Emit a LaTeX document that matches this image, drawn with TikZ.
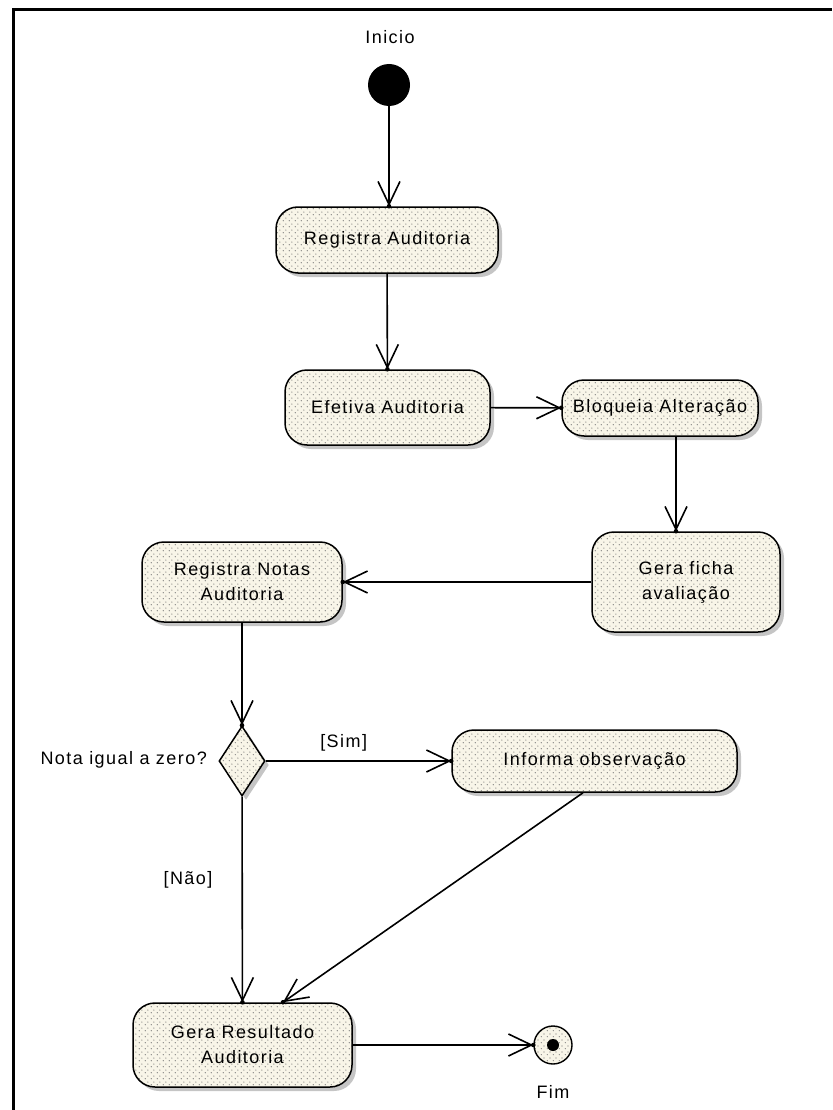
\documentclass[tikz,border=0pt]{standalone}
\usepackage{fontspec}
\newfontfamily\umlfont[LetterSpace=8]{Liberation Sans}
\usetikzlibrary{arrows.meta,shapes.geometric,shadows,patterns.meta,decorations.markings}

\definecolor{boxfill}{RGB}{248,245,232}
\definecolor{dotgray}{RGB}{115,115,115}

% light stippling used inside every state
\tikzdeclarepattern{
  name=dotgrid,
  type=uncolored,
  bounding box={(0pt,0pt) and (6pt,6pt)},
  tile size={(6pt,6pt)},
  code={
    \pgfpathcircle{\pgfpoint{1.5pt}{1.5pt}}{0.7pt}
    \pgfpathcircle{\pgfpoint{4.5pt}{4.5pt}}{0.7pt}
    \pgfusepath{fill}
  }
}

\tikzset{
  uml/.style={font=\umlfont\fontsize{18}{25}\selectfont, text=black},
  stippled/.style={
    drop shadow={shadow xshift=4pt, shadow yshift=-4pt, fill=black!45},
    preaction={fill=boxfill},
    pattern=dotgrid, pattern color=dotgray,
    draw=black, line width=1.5pt},
  activity/.style={uml, stippled, rounded corners=22pt, align=center, inner sep=0pt},
  decision/.style={stippled, diamond, inner sep=0pt, minimum width=46pt, minimum height=70pt},
  startstate/.style={circle, fill=black, inner sep=0pt, minimum size=42pt},
  endstate/.style={circle, preaction={fill=boxfill}, pattern=dotgrid, pattern color=dotgray,
    draw=black, line width=1.4pt, inner sep=0pt, minimum size=38pt},
  flow/.style={line width=1.6pt, -{Straight Barb[length=23pt,width=22pt]},
    postaction={decorate},
    decoration={markings, mark=at position 1 with {\fill[black] circle (2.3pt);}}},
  tag/.style={uml, inner sep=0pt}
}

\begin{document}
\begin{tikzpicture}[x=1pt, y=-1pt]
\useasboundingbox (0,0) rectangle (832,1110);
% frame
\draw[line width=3.5pt] (13.5,1110) -- (13.5,9.5) -- (832,9.5);

% states
\node[tag] (inicio) at (390,37) {Inicio};
\node[startstate] (start) at (389,85) {};
\node[activity, minimum width=222pt, minimum height=66pt] (ra) at (387,240) {Registra Auditoria};
\node[activity, minimum width=205pt, minimum height=75pt] (ef) at (387.5,407.5) {Efetiva Auditoria};
\node[activity, minimum width=196pt, minimum height=56pt] (bl) at (660,408) {Bloqueia Alteração};
\node[activity, minimum width=188pt, minimum height=100pt] (gf) at (686,582) {Gera ficha\\avaliação};
\node[activity, minimum width=200pt, minimum height=80pt] (rn) at (242,582) {Registra Notas\\Auditoria};
\node[decision] (dec) at (242,761) {};
\node[tag, anchor=east] (q) at (207,760) {Nota igual a zero?};
\node[activity, minimum width=285pt, minimum height=62pt] (inf) at (594.5,761) {Informa observação};
\node[activity, minimum width=219pt, minimum height=84pt] (gr) at (242.5,1045) {Gera Resultado\\Auditoria};
\node[endstate] (fim) at (553,1045) {};
\fill (fim.center) circle (6pt);
\node[tag] (fimlabel) at (553,1092) {Fim};

% transitions
\coordinate (c1) at (676,0);
\coordinate (c2) at (583,0);
\coordinate (c3) at (283,0);
\draw[flow] (start) -- (start |- ra.north);
\draw[flow] (ra) -- (ef);
\draw[flow] (ef) -- (bl);
\draw[flow] (bl.south -| c1) -- (gf.north -| c1);
\draw[flow] (gf) -- (rn);
\draw[flow] (rn) -- (dec);
\draw[flow] (dec) -- node[tag, pos=0.42, above=9pt] (sim) {[Sim]} (inf);
\draw[flow] (dec) -- (gr);
\node[tag] (nao) at (188,880) {[Não]};
\draw[flow] (inf.south -| c2) -- (gr.north -| c3);
\draw[flow] (gr) -- (fim);
\end{tikzpicture}
\end{document}
